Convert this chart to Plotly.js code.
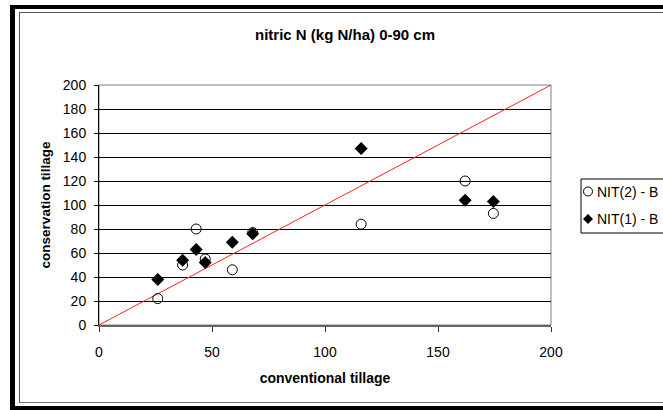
<!DOCTYPE html>
<html>
<head>
<meta charset="utf-8">
<script src="https://cdn.plot.ly/plotly-3.0.1.min.js"></script>
<style>
  html, body { margin: 0; padding: 0; background: #fff; overflow: hidden; width: 663px; height: 410px; }
  #wrap { position: relative; width: 663px; height: 410px; overflow: hidden; }
  #chart { position: absolute; left: 0; top: 0; width: 720px; height: 410px; }
  .frame { position: absolute; pointer-events: none; box-sizing: border-box; }
</style>
</head>
<body>
<div id="wrap">
  <div id="chart"></div>
  <div class="frame" style="left:10px; top:5px; width:800px; height:405px; border-left:5px solid #000; border-top:4px solid #000;"></div>
  <div class="frame" style="left:10px; top:406px; width:800px; height:4px; background:#000;"></div>
  <div class="frame" style="left:19px; top:12px; width:800px; height:391px; border-left:1px solid #555; border-top:1px solid #555; border-bottom:1px solid #777;"></div>
</div>
<script>
// ---- data ----
const seriesNames = ["NIT(2) - B", "NIT(1) - B"];
const nit2X = [26, 37, 43, 47, 59, 68, 116, 162, 174.5];
const nit2Y = [22, 50, 80, 55, 46, 77, 84, 120, 93];
const nit1X = [26, 37, 43, 47, 59, 68, 116, 162, 174.5];
const nit1Y = [38, 54, 63, 52, 69, 76, 147, 104, 103];
const refLineX = [0, 200];
const refLineY = [0, 200];
const xTicks = [0, 50, 100, 150, 200];
const yTicks = [0, 20, 40, 60, 80, 100, 120, 140, 160, 180, 200];
const chartTitle = "nitric N (kg N/ha) 0-90 cm";
const xTitle = "conventional tillage";
const yTitle = "conservation tillage";

const FONT = "Liberation Sans, Arial, sans-serif";

const traces = [
  { x: refLineX, y: refLineY, mode: "lines", line: { color: "#ff2020", width: 1 }, showlegend: false, hoverinfo: "skip", cliponaxis: false },
  { x: nit2X, y: nit2Y, mode: "markers", name: seriesNames[0], showlegend: false, cliponaxis: false,
    marker: { symbol: "circle-open", size: 10, color: "#000", line: { color: "#000", width: 1 } } },
  { x: nit1X, y: nit1Y, mode: "markers", name: seriesNames[1], showlegend: false, cliponaxis: false,
    marker: { symbol: "diamond", size: 10, color: "#000", line: { width: 0 } } }
];

// plot area geometry in pixels (used for legend placement in paper coords)
const L = 99, R = 551, T = 85, B = 325, W = 720, H = 410;
const px = v => (v - L) / (R - L);
const py = v => (B - v) / (B - T);

const shapes = [
  { type: "rect", xref: "paper", yref: "paper", x0: 0, x1: 1, y0: 0, y1: 1, line: { color: "#808080", width: 1 }, layer: "below" },
  { type: "rect", xref: "paper", yref: "paper", x0: px(581), x1: px(700), y0: py(233), y1: py(179), line: { color: "#000", width: 1 }, fillcolor: "#fff" },
  { type: "circle", xref: "paper", yref: "paper", xsizemode: "pixel", ysizemode: "pixel",
    xanchor: px(588), yanchor: py(191.5), x0: -4.5, x1: 4.5, y0: -4.5, y1: 4.5, line: { color: "#000", width: 1 } },
  { type: "path", xref: "paper", yref: "paper", xsizemode: "pixel", ysizemode: "pixel",
    xanchor: px(588), yanchor: py(219), path: "M -5 0 L 0 5 L 5 0 L 0 -5 Z", fillcolor: "#000", line: { width: 0 } }
];

const annotations = [
  { xref: "paper", yref: "paper", x: px(595), y: py(191.5), xanchor: "left", yanchor: "middle", showarrow: false,
    text: seriesNames[0], font: { family: FONT, size: 14, color: "#000" } },
  { xref: "paper", yref: "paper", x: px(595), y: py(219), xanchor: "left", yanchor: "middle", showarrow: false,
    text: seriesNames[1], font: { family: FONT, size: 14, color: "#000" } }
];

const layout = {
  width: W, height: H,
  margin: { l: L, r: W - R, t: T, b: H - B, pad: 0 },
  paper_bgcolor: "rgba(0,0,0,0)", plot_bgcolor: "#fff",
  font: { family: FONT, color: "#000", size: 14 },
  title: { text: "<b>" + chartTitle + "</b>", font: { family: FONT, size: 15, color: "#000" },
           xref: "container", x: 345 / W, xanchor: "center", yref: "container", y: 1 - 35 / H, yanchor: "middle" },
  showlegend: false,
  xaxis: {
    range: [0, 200], tickvals: xTicks, ticktext: xTicks.map(String),
    ticks: "outside", ticklen: 5, tickcolor: "#333", tickwidth: 1,
    showgrid: false, zeroline: false, showline: true, linecolor: "#666", linewidth: 2,
    ticklabelstandoff: 8,
    tickfont: { family: FONT, size: 14, color: "#000" },
    title: { text: "<b>" + xTitle + "</b>", font: { family: FONT, size: 14, color: "#000" }, standoff: 14 },
    fixedrange: true, automargin: false
  },
  yaxis: {
    range: [0, 200], tickvals: yTicks, ticktext: yTicks.map(String),
    ticks: "outside", ticklen: 4, tickcolor: "#000", tickwidth: 1,
    showgrid: true, gridcolor: "#000", gridwidth: 1,
    zeroline: false, showline: true, linecolor: "#000", linewidth: 1,
    ticklabelstandoff: 5,
    tickfont: { family: FONT, size: 14, color: "#000" },
    title: { text: "<b>" + yTitle + "</b>", font: { family: FONT, size: 13.5, color: "#000" }, standoff: 9 },
    fixedrange: true, automargin: false
  },
  shapes: shapes,
  annotations: annotations
};

Plotly.newPlot("chart", traces, layout, { displayModeBar: false, staticPlot: true });
</script>
</body>
</html>
